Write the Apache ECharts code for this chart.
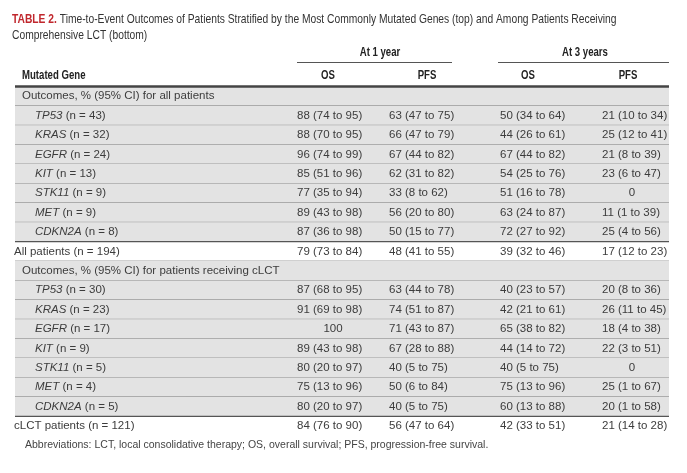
<!DOCTYPE html>
<html>
<head>
<meta charset="utf-8">
<script src="https://cdn.jsdelivr.net/npm/echarts@6/dist/echarts.min.js"></script>
<style>html,body{margin:0;padding:0;background:#fff}#c{width:687px;height:473px}</style>
</head>
<body>
<div id="c"></div>
<script>
// ---------- DATA ----------
const titleLabel = 'TABLE 2.';
const titleLines = ['Time-to-Event Outcomes of Patients Stratified by the Most Commonly Mutated Genes (top) and Among Patients Receiving', 'Comprehensive LCT (bottom)'];
const groupHeaders = ['At 1 year', 'At 3 years'];
const columnHeaders = ['Mutated Gene', 'OS', 'PFS', 'OS', 'PFS'];
const sectionLabels = ['Outcomes, % (95% CI) for all patients', 'Outcomes, % (95% CI) for patients receiving cLCT'];
const footnote = 'Abbreviations: LCT, local consolidative therapy; OS, overall survival; PFS, progression-free survival.';

// top section: all patients
const genesAll = ['TP53', 'KRAS', 'EGFR', 'KIT', 'STK11', 'MET', 'CDKN2A'];
const nAll = [43, 32, 24, 13, 9, 9, 8];
const os1All = [[88,74,95],[88,70,95],[96,74,99],[85,51,96],[77,35,94],[89,43,98],[87,36,98]];
const pfs1All = [[63,47,75],[66,47,79],[67,44,82],[62,31,82],[33,8,62],[56,20,80],[50,15,77]];
const os3All = [[50,34,64],[44,26,61],[67,44,82],[54,25,76],[51,16,78],[63,24,87],[72,27,92]];
const pfs3All = [[21,10,34],[25,12,41],[21,8,39],[23,6,47],[0,null,null],[11,1,39],[25,4,56]];
const totalAllLabel = 'All patients';
const totalAllN = 194;
const totalAll = [[79,73,84],[48,41,55],[39,32,46],[17,12,23]];

// bottom section: patients receiving cLCT
const genesCl = ['TP53', 'KRAS', 'EGFR', 'KIT', 'STK11', 'MET', 'CDKN2A'];
const nCl = [30, 23, 17, 9, 5, 4, 5];
const os1Cl = [[87,68,95],[91,69,98],[100,null,null],[89,43,98],[80,20,97],[75,13,96],[80,20,97]];
const pfs1Cl = [[63,44,78],[74,51,87],[71,43,87],[67,28,88],[40,5,75],[50,6,84],[40,5,75]];
const os3Cl = [[40,23,57],[42,21,61],[65,38,82],[44,14,72],[40,5,75],[75,13,96],[60,13,88]];
const pfs3Cl = [[20,8,36],[26,11,45],[18,4,38],[22,3,51],[0,null,null],[25,1,67],[20,1,58]];
const totalClLabel = 'cLCT patients';
const totalClN = 121;
const totalCl = [[84,76,90],[56,47,64],[42,33,51],[21,14,28]];

// ---------- BUILD ROWS ----------
const rows = [];
function addSection(label, genes, ns, c1, c2, c3, c4, totLabel, totN, tot) {
  rows.push({kind: 'section', label: label});
  genes.forEach((g, i) => rows.push({kind: 'gene', gene: g, n: ns[i], cells: [c1[i], c2[i], c3[i], c4[i]]}));
  rows.push({kind: 'total', label: totLabel, n: totN, cells: tot});
}
addSection(sectionLabels[0], genesAll, nAll, os1All, pfs1All, os3All, pfs3All, totalAllLabel, totalAllN, totalAll);
addSection(sectionLabels[1], genesCl, nCl, os1Cl, pfs1Cl, os3Cl, pfs3Cl, totalClLabel, totalClN, totalCl);

function fmt(v) { return v[1] == null ? String(v[0]) : v[0] + ' (' + v[1] + ' to ' + v[2] + ')'; }

// ---------- LAYOUT / STYLE ----------
const BODY = '"Liberation Sans", Arial, sans-serif';
const TABLE_W = 654;
const COL_LEFT = [282, 374, 485, 587];
const COL_MID = [318, 410, 518, 617];
const LABEL_X = {section: 7, gene: 20, total: -1};
const GRAY = '#e3e3e3';
const TXT = '#3c3c3c';
const NARROW = 0.8;

const chart = echarts.init(document.getElementById('c'), null, {renderer: 'canvas'});

function renderItem(params, api) {
  const i = api.value(1);
  const r = rows[i];
  const p = api.coord([0, i]);
  const pR = api.coord([TABLE_W, i]);
  const h = api.size([0, 1])[1];
  const y = p[1];
  const top = y - h / 2;
  const children = [];
  if (r.kind !== 'total') {
    children.push({type: 'rect', shape: {x: p[0], y: top, width: pR[0] - p[0], height: h}, style: {fill: GRAY}});
  }
  if (i < rows.length - 1) {
    const dark = rows[i + 1].kind === 'total';
    children.push({type: 'line', shape: {x1: p[0], y1: top + h, x2: pR[0], y2: top + h},
      style: {stroke: dark ? '#555' : '#8a8a8a', lineWidth: dark ? 1.3 : 1}});
  }
  const lx = api.coord([LABEL_X[r.kind], i])[0];
  if (r.kind === 'section') {
    children.push({type: 'text', x: lx, y: y, style: {text: r.label, font: '11.5px ' + BODY, fill: TXT, textVerticalAlign: 'middle', textAlign: 'left'}});
  } else {
    const txt = r.kind === 'gene' ? '{g|' + r.gene + '} (n = ' + r.n + ')' : r.label + ' (n = ' + r.n + ')';
    children.push({type: 'text', x: lx, y: y, style: {text: txt, fontFamily: BODY, fontSize: 11.5, fill: TXT,
      textVerticalAlign: 'middle', textAlign: 'left',
      rich: {g: {fontStyle: 'italic', fontFamily: BODY, fontSize: 11.5, fill: TXT}}}});
    r.cells.forEach((v, k) => {
      const single = v[1] == null;
      const cx = api.coord([single ? COL_MID[k] : COL_LEFT[k], i])[0];
      children.push({type: 'text', x: cx, y: y, style: {text: fmt(v), font: '11.5px ' + BODY, fill: TXT,
        textVerticalAlign: 'middle', textAlign: single ? 'center' : 'left'}});
    });
  }
  return {type: 'group', children: children};
}

const gridLeft = 15, gridTop = 86.5, rowH = 19.4;
const headerColX = [22, 328, 427, 528, 628];

const g2 = [];
// title (condensed look via horizontal scaling)
g2.push({type: 'text', x: 12, y: 11, scaleX: 0.79, style: {
  text: '{r|' + titleLabel + '} ' + titleLines[0] + '\n' + titleLines[1],
  fontFamily: BODY, fontSize: 13, fill: '#333', lineHeight: 16.5, textAlign: 'left', textVerticalAlign: 'top',
  rich: {r: {fill: '#c0272d', fontWeight: 'bold', fontFamily: BODY, fontSize: 13, lineHeight: 16.5}}}});
columnHeaders.forEach((t, k) => {
  g2.push({type: 'text', x: headerColX[k], y: 76, scaleX: NARROW, style: {text: t, font: 'bold 12px ' + BODY, fill: '#222',
    textAlign: k === 0 ? 'left' : 'center', textVerticalAlign: 'middle'}});
});
g2.push({type: 'text', x: 380, y: 53, scaleX: NARROW, style: {text: groupHeaders[0], font: 'bold 12px ' + BODY, fill: '#222', textAlign: 'center', textVerticalAlign: 'middle'}});
g2.push({type: 'text', x: 585, y: 53, scaleX: NARROW, style: {text: groupHeaders[1], font: 'bold 12px ' + BODY, fill: '#222', textAlign: 'center', textVerticalAlign: 'middle'}});
g2.push({type: 'line', shape: {x1: 297, y1: 62.5, x2: 452, y2: 62.5}, style: {stroke: '#555', lineWidth: 1}});
g2.push({type: 'line', shape: {x1: 498, y1: 62.5, x2: 669, y2: 62.5}, style: {stroke: '#555', lineWidth: 1}});
g2.push({type: 'line', shape: {x1: 15, y1: 86.5, x2: 669, y2: 86.5}, style: {stroke: '#444', lineWidth: 2.4}, z: 100});
g2.push({type: 'text', x: 25, y: 445, style: {text: footnote, font: '10.5px ' + BODY, fill: '#444', textAlign: 'left', textVerticalAlign: 'middle'}});

chart.setOption({
  backgroundColor: '#fff',
  animation: false,
  grid: {left: gridLeft, top: gridTop, width: TABLE_W, height: rowH * rows.length},
  xAxis: {type: 'value', min: 0, max: TABLE_W, show: false},
  yAxis: {type: 'category', inverse: true, data: rows.map((r, i) => 'r' + i), show: false},
  graphic: g2,
  series: [{
    type: 'custom',
    renderItem: renderItem,
    clip: false,
    encode: {x: 0, y: 1},
    data: rows.map((r, i) => [0, i])
  }]
});
</script>
</body>
</html>
